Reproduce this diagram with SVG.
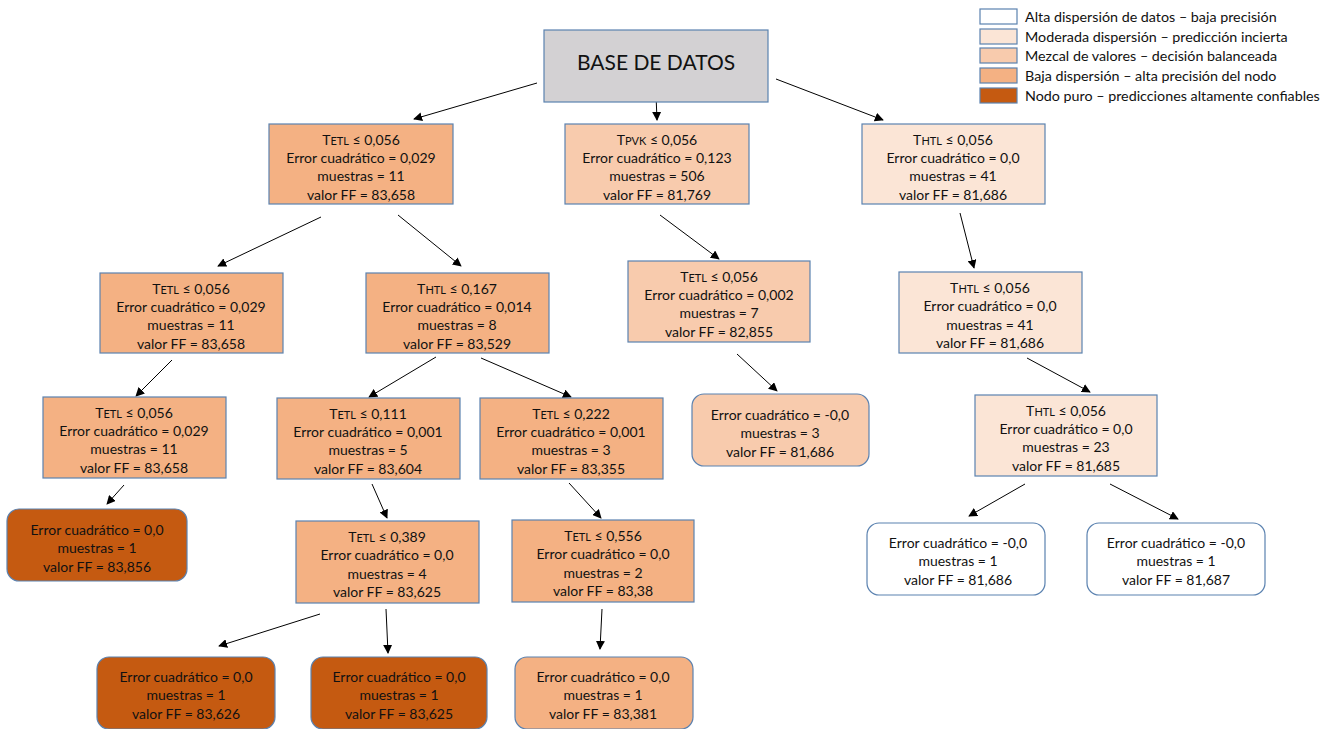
<svg xmlns="http://www.w3.org/2000/svg" width="1335" height="729" viewBox="0 0 1335 729">
<style>
text{font-family:Lato,"Liberation Sans",sans-serif;font-size:14px;fill:#111;text-anchor:middle}
.b{stroke:#5b82b0;stroke-width:1.2}
.g{fill:#d3d1d3}
.w{fill:#ffffff}
.l{fill:#fbe5d6}
.m{fill:#f8cbad}
.o{fill:#f4b183}
.d{fill:#c55a11}
.sc{font-size:11px}
.lg text{text-anchor:start;font-size:14.3px}
.e line{stroke:#000;stroke-width:1;marker-end:url(#ah)}
</style>
<defs>
<marker id="ah" viewBox="0 0 10 10" refX="9" refY="5" markerWidth="9" markerHeight="9" markerUnits="userSpaceOnUse" orient="auto">
<path d="M0,0 L10,5 L0,10 z" fill="#000"/>
</marker>
</defs>
<rect width="1335" height="729" fill="#fff"/>

<g id="legend" class="lg">
<rect class="b w" x="980" y="9" width="37" height="15"/>
<rect class="b l" x="980" y="29" width="37" height="15"/>
<rect class="b m" x="980" y="48" width="37" height="15"/>
<rect class="b o" x="980" y="68" width="37" height="15"/>
<rect class="b d" x="980" y="88" width="37" height="15"/>
<text x="1025" y="22">Alta dispersión de datos – baja precisión</text>
<text x="1025" y="42">Moderada dispersión – predicción incierta</text>
<text x="1025" y="61">Mezcal de valores – decisión balanceada</text>
<text x="1025" y="81">Baja dispersión – alta precisión del nodo</text>
<text x="1025" y="101">Nodo puro – predicciones altamente confiables</text>
</g>

<g class="e" id="connectors">
<line x1="537" y1="83" x2="414" y2="119"/>
<line x1="656" y1="95" x2="657" y2="120"/>
<line x1="776" y1="79" x2="883" y2="120"/>
<line x1="321" y1="217" x2="218" y2="266"/>
<line x1="398" y1="215" x2="461" y2="266"/>
<line x1="660" y1="215" x2="719" y2="259"/>
<line x1="960" y1="213" x2="974" y2="268"/>
<line x1="172" y1="360" x2="136" y2="396"/>
<line x1="436" y1="357" x2="369" y2="397"/>
<line x1="481" y1="358" x2="571" y2="397"/>
<line x1="737" y1="354" x2="777" y2="391"/>
<line x1="1027" y1="358" x2="1090" y2="392"/>
<line x1="124" y1="485" x2="107" y2="504"/>
<line x1="372" y1="484" x2="387" y2="518"/>
<line x1="569" y1="483" x2="601" y2="518"/>
<line x1="1025" y1="484" x2="969" y2="516"/>
<line x1="1110" y1="484" x2="1178" y2="519"/>
<line x1="320" y1="614" x2="219" y2="646"/>
<line x1="386" y1="609" x2="388" y2="653"/>
<line x1="602" y1="609" x2="600" y2="649"/>
</g>

<g id="root">
<rect class="b g" x="544" y="30" width="224" height="72"/>
<text x="656" y="70" style="font-size:21px">BASE DE DATOS</text>
</g>

<g id="n1">
<rect class="b o" x="269" y="124" width="184" height="80"/>
<text x="361" y="145">T<tspan class="sc">ETL</tspan> ≤ 0,056</text>
<text x="361" y="163">Error cuadrático = 0,029</text>
<text x="361" y="181">muestras = 11</text>
<text x="361" y="200">valor FF = 83,658</text>
</g>
<g id="n2">
<rect class="b m" x="565" y="124" width="184" height="80"/>
<text x="657" y="145">T<tspan class="sc">PVK</tspan> ≤ 0,056</text>
<text x="657" y="163">Error cuadrático = 0,123</text>
<text x="657" y="181">muestras = 506</text>
<text x="657" y="200">valor FF = 81,769</text>
</g>
<g id="n3">
<rect class="b l" x="862" y="124" width="183" height="80"/>
<text x="953" y="145">T<tspan class="sc">HTL</tspan> ≤ 0,056</text>
<text x="953" y="163">Error cuadrático = 0,0</text>
<text x="953" y="181">muestras = 41</text>
<text x="953" y="200">valor FF = 81,686</text>
</g>

<g id="n4">
<rect class="b o" x="100" y="273" width="183" height="80"/>
<text x="191" y="294">T<tspan class="sc">ETL</tspan> ≤ 0,056</text>
<text x="191" y="312">Error cuadrático = 0,029</text>
<text x="191" y="330">muestras = 11</text>
<text x="191" y="349">valor FF = 83,658</text>
</g>
<g id="n5">
<rect class="b o" x="366" y="273" width="183" height="80"/>
<text x="457" y="294">T<tspan class="sc">HTL</tspan> ≤ 0,167</text>
<text x="457" y="312">Error cuadrático = 0,014</text>
<text x="457" y="330">muestras = 8</text>
<text x="457" y="349">valor FF = 83,529</text>
</g>
<g id="n6">
<rect class="b m" x="628" y="261" width="182" height="81"/>
<text x="719" y="282">T<tspan class="sc">ETL</tspan> ≤ 0,056</text>
<text x="719" y="300">Error cuadrático = 0,002</text>
<text x="719" y="318">muestras = 7</text>
<text x="719" y="337">valor FF = 82,855</text>
</g>
<g id="n7">
<rect class="b l" x="899" y="272" width="183" height="81"/>
<text x="990" y="293">T<tspan class="sc">HTL</tspan> ≤ 0,056</text>
<text x="990" y="311">Error cuadrático = 0,0</text>
<text x="990" y="330">muestras = 41</text>
<text x="990" y="348">valor FF = 81,686</text>
</g>

<g id="n8">
<rect class="b o" x="43" y="397" width="183" height="81"/>
<text x="134" y="418">T<tspan class="sc">ETL</tspan> ≤ 0,056</text>
<text x="134" y="436">Error cuadrático = 0,029</text>
<text x="134" y="454">muestras = 11</text>
<text x="134" y="473">valor FF = 83,658</text>
</g>
<g id="n9">
<rect class="b o" x="277" y="398" width="183" height="81"/>
<text x="368" y="419">T<tspan class="sc">ETL</tspan> ≤ 0,111</text>
<text x="368" y="437">Error cuadrático = 0,001</text>
<text x="368" y="455">muestras = 5</text>
<text x="368" y="474">valor FF = 83,604</text>
</g>
<g id="n10">
<rect class="b o" x="480" y="398" width="183" height="81"/>
<text x="571" y="419">T<tspan class="sc">ETL</tspan> ≤ 0,222</text>
<text x="571" y="437">Error cuadrático = 0,001</text>
<text x="571" y="455">muestras = 3</text>
<text x="571" y="474">valor FF = 83,355</text>
</g>
<g id="n11">
<rect class="b m" x="692" y="394" width="177" height="72" rx="12"/>
<text x="780" y="420">Error cuadrático = -0,0</text>
<text x="780" y="438">muestras = 3</text>
<text x="780" y="457">valor FF = 81,686</text>
</g>
<g id="n12">
<rect class="b l" x="975" y="395" width="182" height="81"/>
<text x="1066" y="416">T<tspan class="sc">HTL</tspan> ≤ 0,056</text>
<text x="1066" y="434">Error cuadrático = 0,0</text>
<text x="1066" y="452">muestras = 23</text>
<text x="1066" y="471">valor FF = 81,685</text>
</g>

<g id="n13">
<rect class="b d" x="7" y="509" width="180" height="72" rx="12"/>
<text x="97" y="535">Error cuadrático = 0,0</text>
<text x="97" y="553">muestras = 1</text>
<text x="97" y="572">valor FF = 83,856</text>
</g>
<g id="n14">
<rect class="b o" x="296" y="521" width="183" height="82"/>
<text x="387" y="542">T<tspan class="sc">ETL</tspan> ≤ 0,389</text>
<text x="387" y="560">Error cuadrático = 0,0</text>
<text x="387" y="579">muestras = 4</text>
<text x="387" y="597">valor FF = 83,625</text>
</g>
<g id="n15">
<rect class="b o" x="512" y="520" width="182" height="82"/>
<text x="603" y="541">T<tspan class="sc">ETL</tspan> ≤ 0,556</text>
<text x="603" y="559">Error cuadrático = 0,0</text>
<text x="603" y="578">muestras = 2</text>
<text x="603" y="596">valor FF = 83,38</text>
</g>
<g id="n16">
<rect class="b w" x="867" y="523" width="178" height="72" rx="12"/>
<text x="958" y="548">Error cuadrático = -0,0</text>
<text x="958" y="566">muestras = 1</text>
<text x="958" y="585">valor FF = 81,686</text>
</g>
<g id="n17">
<rect class="b w" x="1087" y="523" width="178" height="72" rx="12"/>
<text x="1176" y="548">Error cuadrático = -0,0</text>
<text x="1176" y="566">muestras = 1</text>
<text x="1176" y="585">valor FF = 81,687</text>
</g>

<g id="n18">
<rect class="b d" x="97" y="657" width="178" height="72" rx="12"/>
<text x="186" y="682">Error cuadrático = 0,0</text>
<text x="186" y="700">muestras = 1</text>
<text x="186" y="719">valor FF = 83,626</text>
</g>
<g id="n19">
<rect class="b d" x="311" y="657" width="176" height="72" rx="12"/>
<text x="399" y="682">Error cuadrático = 0,0</text>
<text x="399" y="700">muestras = 1</text>
<text x="399" y="719">valor FF = 83,625</text>
</g>
<g id="n20">
<rect class="b o" x="515" y="657" width="178" height="72" rx="12"/>
<text x="603" y="682">Error cuadrático = 0,0</text>
<text x="603" y="700">muestras = 1</text>
<text x="603" y="719">valor FF = 83,381</text>
</g>
</svg>
